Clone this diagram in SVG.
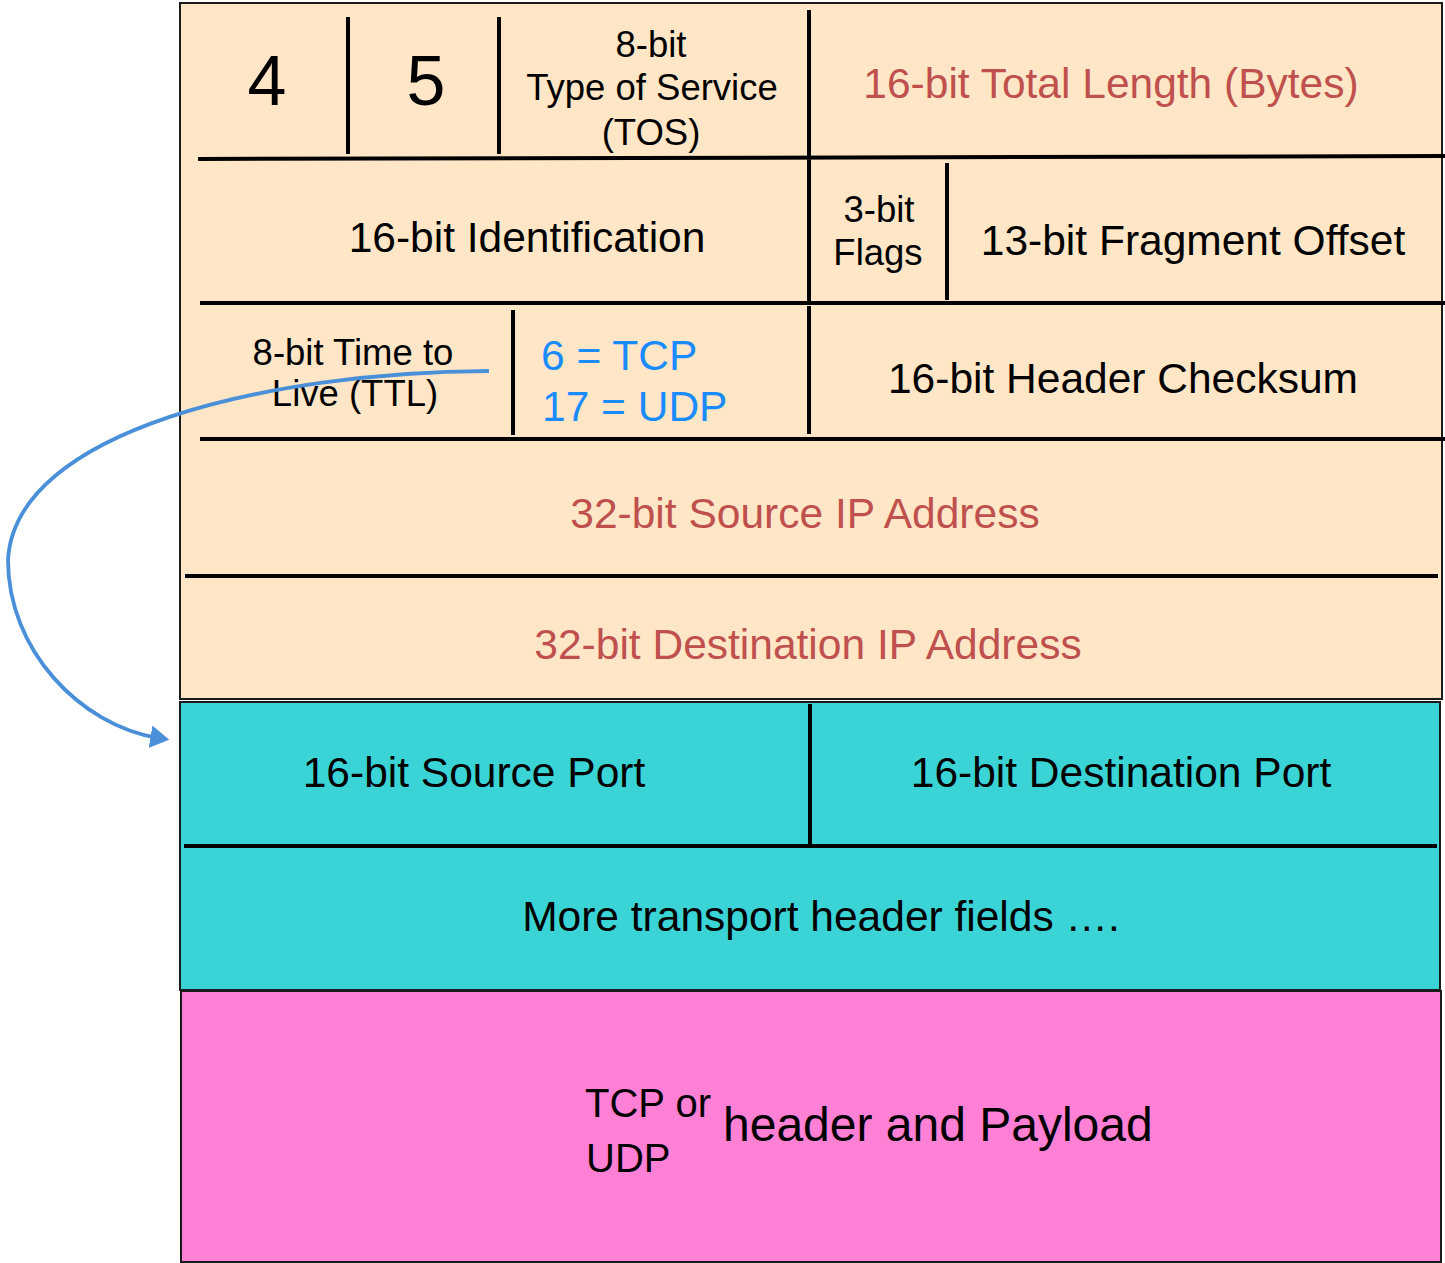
<svg xmlns="http://www.w3.org/2000/svg" width="1445" height="1263" viewBox="0 0 1445 1263">
<style>
text{font-family:"Liberation Sans",Arial,sans-serif;fill:#000}
.c{text-anchor:middle}
.red{fill:#c0504d}
.blue{fill:#1a8cff}
.div{stroke:#000;stroke-width:4;fill:none}
.box{stroke:#1a1a1a;stroke-width:2}
</style>
<defs>
<marker id="ah" markerWidth="6" markerHeight="6" refX="2" refY="3" orient="auto" markerUnits="strokeWidth">
<path d="M0,0 L5,3 L0,6 Z" fill="#4a90d9"/>
</marker>
</defs>
<g id="ip-header">
<rect class="box" x="180" y="3" width="1262" height="696" fill="#fee6c6"/>
<path class="div" d="M198,159 L1445,156 M348,17 V154 M499,17 V154 M809,10 V302 M200,303 H1445 M947,163 V300 M513,310 V435 M809,306 V434 M200,439 H1445 M185,576 H1438"/>
</g>
<g id="version"><text class="c" x="267" y="105" font-size="70">4</text></g>
<g id="ihl"><text class="c" x="426" y="105" font-size="70">5</text></g>
<g id="tos"><text class="c" x="651" y="57" font-size="36.5">8-bit</text><text class="c" x="652" y="100" font-size="36.5">Type of Service</text><text class="c" x="651" y="145" font-size="36.5">(TOS)</text></g>
<g id="total-length"><text class="c red" x="1111" y="98" font-size="42.5">16-bit Total Length (Bytes)</text></g>
<g id="identification"><text class="c" x="527" y="252" font-size="42.5">16-bit Identification</text></g>
<g id="flags"><text class="c" x="879" y="222" font-size="36.5">3-bit</text><text class="c" x="878" y="265" font-size="36.5">Flags</text></g>
<g id="fragment-offset"><text class="c" x="1193" y="255" font-size="42.5">13-bit Fragment Offset</text></g>
<g id="ttl"><text class="c" x="353" y="365" font-size="36.5">8-bit Time to</text><text class="c" x="355" y="406" font-size="36.5">Live (TTL)</text></g>
<g id="protocol"><text class="blue" x="541" y="370" font-size="42.5">6 = TCP</text><text class="blue" x="542" y="421" font-size="42.5">17 = UDP</text></g>
<g id="checksum"><text class="c" x="1123" y="393" font-size="42.5">16-bit Header Checksum</text></g>
<g id="src-ip"><text class="c red" x="805" y="528" font-size="42.5">32-bit Source IP Address</text></g>
<g id="dst-ip"><text class="c red" x="808" y="659" font-size="42.5">32-bit Destination IP Address</text></g>
<g id="transport-header">
<rect class="box" x="180" y="702" width="1260" height="288" fill="#3ad4d6"/>
<path class="div" d="M810,704 V845 M184,846 H1437"/>
</g>
<g id="src-port"><text class="c" x="474" y="787" font-size="42.5">16-bit Source Port</text></g>
<g id="dst-port"><text class="c" x="1121" y="787" font-size="42.5">16-bit Destination Port</text></g>
<g id="more-fields"><text class="c" x="821" y="931" font-size="42.5">More transport header fields ….</text></g>
<g id="payload">
<rect class="box" x="181" y="991" width="1260" height="271" fill="#ff80d4"/>
<text x="585" y="1117" font-size="40">TCP or</text>
<text x="586" y="1172" font-size="40">UDP</text>
<text x="723" y="1141" font-size="48">header and Payload</text>
</g>
<g id="connectors">
<path d="M489,371 C270,372 15,430 8,560 C8,650 80,725 158,738" fill="none" stroke="#4a90d9" stroke-width="3.8" marker-end="url(#ah)"/>
</g>
</svg>
